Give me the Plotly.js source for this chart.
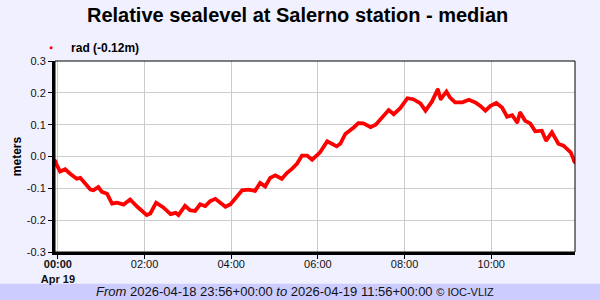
<!DOCTYPE html>
<html>
<head>
<meta charset="utf-8">
<script src="https://cdn.plot.ly/plotly-3.0.1.min.js"></script>
<style>
  html, body { margin: 0; padding: 0; background: #F0F0FF; }
  #chart { width: 600px; height: 300px; }
</style>
</head>
<body>
<div id="chart"></div>
<script>
// Sample times (UTC)
const times = [
  "2026-04-18 23:56", "2026-04-18 23:58", "2026-04-19 00:03", "2026-04-19 00:10", "2026-04-19 00:17",
  "2026-04-19 00:26", "2026-04-19 00:31", "2026-04-19 00:36", "2026-04-19 00:45", "2026-04-19 00:49",
  "2026-04-19 00:56", "2026-04-19 01:01", "2026-04-19 01:08", "2026-04-19 01:15", "2026-04-19 01:22",
  "2026-04-19 01:31", "2026-04-19 01:40", "2026-04-19 01:50", "2026-04-19 02:03", "2026-04-19 02:08",
  "2026-04-19 02:16", "2026-04-19 02:26", "2026-04-19 02:36", "2026-04-19 02:43", "2026-04-19 02:47",
  "2026-04-19 02:56", "2026-04-19 03:03", "2026-04-19 03:10", "2026-04-19 03:17", "2026-04-19 03:24",
  "2026-04-19 03:31", "2026-04-19 03:38", "2026-04-19 03:45", "2026-04-19 03:52", "2026-04-19 03:59",
  "2026-04-19 04:06", "2026-04-19 04:15", "2026-04-19 04:24", "2026-04-19 04:33", "2026-04-19 04:40",
  "2026-04-19 04:47", "2026-04-19 04:54", "2026-04-19 05:01", "2026-04-19 05:10", "2026-04-19 05:17",
  "2026-04-19 05:24", "2026-04-19 05:31", "2026-04-19 05:38", "2026-04-19 05:45", "2026-04-19 05:52",
  "2026-04-19 05:59", "2026-04-19 06:03", "2026-04-19 06:13", "2026-04-19 06:20", "2026-04-19 06:26",
  "2026-04-19 06:31", "2026-04-19 06:38", "2026-04-19 06:50", "2026-04-19 06:56", "2026-04-19 07:03",
  "2026-04-19 07:13", "2026-04-19 07:20", "2026-04-19 07:29", "2026-04-19 07:38", "2026-04-19 07:45",
  "2026-04-19 07:54", "2026-04-19 08:04", "2026-04-19 08:12", "2026-04-19 08:22", "2026-04-19 08:29",
  "2026-04-19 08:38", "2026-04-19 08:46", "2026-04-19 08:50", "2026-04-19 08:58", "2026-04-19 09:03",
  "2026-04-19 09:10", "2026-04-19 09:20", "2026-04-19 09:29", "2026-04-19 09:38", "2026-04-19 09:45",
  "2026-04-19 09:52", "2026-04-19 09:59", "2026-04-19 10:07", "2026-04-19 10:15", "2026-04-19 10:22",
  "2026-04-19 10:29", "2026-04-19 10:36", "2026-04-19 10:40", "2026-04-19 10:47", "2026-04-19 10:54",
  "2026-04-19 11:01", "2026-04-19 11:10", "2026-04-19 11:16", "2026-04-19 11:24", "2026-04-19 11:33",
  "2026-04-19 11:40", "2026-04-19 11:50", "2026-04-19 11:54", "2026-04-19 11:56"
];
// Relative sea level (m), sensor "rad"
const radLevel = [
  -0.012, -0.025, -0.047, -0.040, -0.054,
  -0.070, -0.067, -0.080, -0.104, -0.106,
  -0.096, -0.111, -0.117, -0.148, -0.145,
  -0.151, -0.135, -0.158, -0.184, -0.179,
  -0.145, -0.160, -0.181, -0.177, -0.184,
  -0.155, -0.169, -0.171, -0.150, -0.156,
  -0.140, -0.133, -0.146, -0.158, -0.150,
  -0.132, -0.106, -0.104, -0.108, -0.083,
  -0.094, -0.067, -0.059, -0.070, -0.052,
  -0.039, -0.023, 0.003, 0.003, -0.010,
  0.003, 0.013, 0.048, 0.040, 0.032,
  0.040, 0.071, 0.092, 0.105, 0.104,
  0.092, 0.100, 0.123, 0.146, 0.133,
  0.152, 0.183, 0.180, 0.167, 0.144,
  0.173, 0.211, 0.180, 0.204, 0.185,
  0.170, 0.170, 0.178, 0.170, 0.159,
  0.144, 0.159, 0.168, 0.154, 0.125,
  0.130, 0.107, 0.138, 0.112, 0.104,
  0.079, 0.081, 0.050, 0.076, 0.040,
  0.034, 0.013, -0.013, -0.020
];
const seriesName = "rad (-0.12m)";
const xRange = ["2026-04-18 23:56", "2026-04-19 11:56"];
const yRange = [-0.3, 0.3];
const xTickVals = ["2026-04-19 00:00", "2026-04-19 02:00", "2026-04-19 04:00",
                   "2026-04-19 06:00", "2026-04-19 08:00", "2026-04-19 10:00"];
const xTickText = ["<b>00:00</b><br><b>Apr 19</b>", "02:00", "04:00", "06:00", "08:00", "10:00"];
const yTickVals = [-0.3, -0.2, -0.1, 0.0, 0.1, 0.2, 0.3];
const yTickText = ["-0.3", "-0.2", "-0.1", "0.0", "0.1", "0.2", "0.3"];
const titleText = "Relative sealevel at Salerno station - median";
const footerText = "<i>From</i> 2026-04-18 23:56+00:00 <i>to</i> 2026-04-19 11:56+00:00 <span style='font-size:11px'>© IOC-VLIZ</span>";

const FONT = "Liberation Sans, Arial, sans-serif";

const traces = [
  {
    x: times, y: radLevel, type: "scatter", mode: "lines",
    line: { color: "#ff0000", width: 3.8 },
    showlegend: false, hoverinfo: "skip"
  },
  {
    x: times, y: radLevel, type: "scatter", mode: "markers",
    name: seriesName,
    marker: { color: "#ff0000", size: 3 },
    showlegend: true
  }
];

const layout = {
  width: 600, height: 300,
  paper_bgcolor: "#F0F0FF",
  plot_bgcolor: "#FFFFFF",
  margin: { l: 55, r: 25, t: 61, b: 48, pad: 0 },
  font: { family: FONT, color: "#111", size: 11 },
  title: {
    text: "<b>" + titleText + "</b>",
    font: { family: FONT, size: 20, color: "#000" },
    x: 0.496, xanchor: "center", y: 0.95, yanchor: "middle"
  },
  showlegend: true,
  legend: {
    x: -0.046, xanchor: "left", y: 1.07, yanchor: "middle",
    bgcolor: "rgba(0,0,0,0)", borderwidth: 0,
    font: { family: FONT, size: 12, color: "#000", weight: "bold" },
    itemwidth: 30
  },
  xaxis: {
    type: "date",
    range: xRange,
    tickmode: "array", tickvals: xTickVals, ticktext: xTickText,
    ticks: "outside", ticklen: 4, tickwidth: 1, tickcolor: "#000",
    ticklabelstandoff: -4,
    tickfont: { family: FONT, size: 11, color: "#111" },
    showgrid: true, gridcolor: "#CCCCCC", gridwidth: 1,
    showline: true, linecolor: "#000", linewidth: 3,
    zeroline: false, fixedrange: true
  },
  yaxis: {
    range: yRange,
    tickmode: "array", tickvals: yTickVals, ticktext: yTickText,
    ticks: "outside", ticklen: 4, tickwidth: 1, tickcolor: "#000",
    tickfont: { family: FONT, size: 11, color: "#111" },
    showgrid: true, gridcolor: "#CCCCCC", gridwidth: 1,
    showline: true, linecolor: "#000", linewidth: 3,
    zeroline: false, fixedrange: true,
    title: { text: "<b>meters</b>", font: { family: FONT, size: 12, color: "#000" }, standoff: 3 }
  },
  shapes: [
    { type: "rect", xref: "paper", yref: "paper", x0: 0, x1: 1, y0: 0, y1: 1,
      line: { color: "#000", width: 1 }, fillcolor: "rgba(0,0,0,0)", layer: "above" },
    { type: "rect", xref: "paper", yref: "paper", x0: -0.2, x1: 1.2, y0: -0.3, y1: -0.166,
      line: { width: 0 }, fillcolor: "#CCCCFF", layer: "below" }
  ],
  annotations: [
    { xref: "paper", yref: "paper", x: 0.4615, y: -0.206, xanchor: "center", yanchor: "middle",
      text: footerText, showarrow: false,
      font: { family: FONT, size: 13, color: "#111" } }
  ]
};

Plotly.newPlot("chart", traces, layout, { staticPlot: true, displayModeBar: false });
</script>
</body>
</html>
